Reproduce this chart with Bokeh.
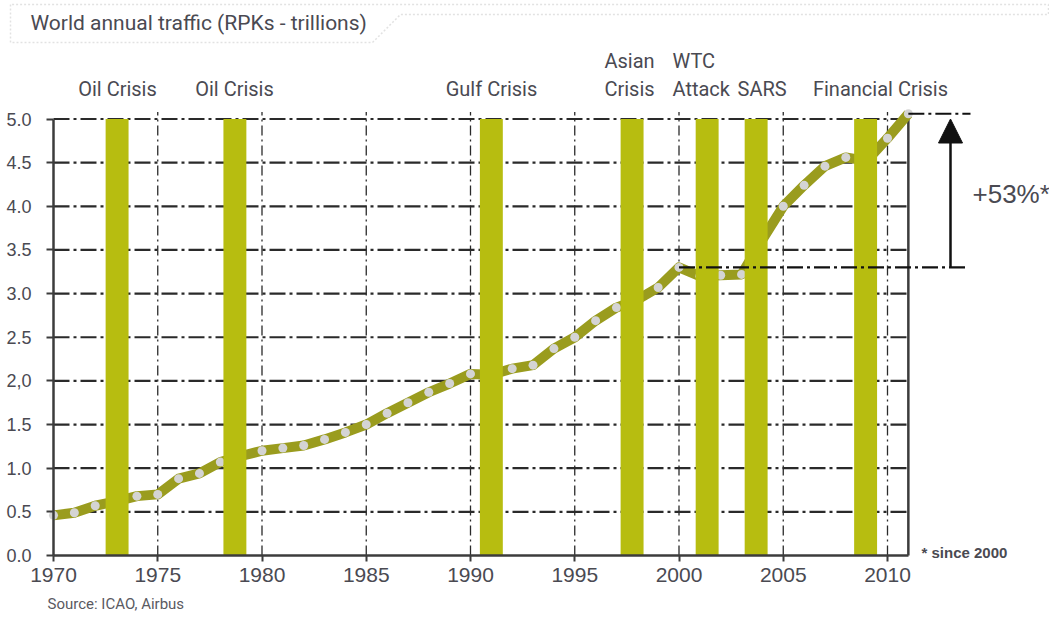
from bokeh.plotting import figure
from bokeh.models import FixedTicker, Label, Arrow, NormalHead, PolyAnnotation, Range1d
from bokeh.core.properties import value
from bokeh.embed import file_html
from bokeh.resources import INLINE

# ---------------- data ----------------
years = list(range(1970, 2012))
rpk = [0.46, 0.49, 0.57, 0.62, 0.68, 0.70, 0.88, 0.94, 1.07, 1.14,
       1.20, 1.23, 1.26, 1.33, 1.41, 1.50, 1.63, 1.75, 1.87, 1.97,
       2.08, 2.07, 2.14, 2.18, 2.37, 2.50, 2.69, 2.84, 2.93, 3.07,
       3.30, 3.20, 3.21, 3.22, 3.62, 4.00, 4.24, 4.46, 4.56, 4.52,
       4.78, 5.06]

crisis_years = [1973.05, 1978.7, 1991.0, 1997.75, 2001.35, 2003.7, 2008.95]
crisis_labels = ["Oil Crisis", "Oil Crisis", "Gulf Crisis", "Asian\nCrisis",
                 "WTC\nAttack", "SARS", "Financial Crisis"]

y_ticks = [0.0, 0.5, 1.0, 1.5, 2.0, 2.5, 3.0, 3.5, 4.0, 4.5, 5.0]
y_tick_labels = ["0.0", "0.5", "1.0", "1.5", "2,0", "2.5", "3.0", "3.5", "4.0", "4.5", "5.0"]
x_ticks = [1970, 1975, 1980, 1985, 1990, 1995, 2000, 2005, 2010]

title_text = "World annual traffic (RPKs - trillions)"
growth_text = "+53%*"
footnote_text = "* since 2000"
source_text = "Source: ICAO, Airbus"
base_year = 2000

# ---------------- layout helpers (picture pixels -> data) ----------------
W, H = 1049, 613
PX_YEAR = 20.85
PX_UNIT = 87.3


def dx(px):
    return years[0] + (px - 53) / PX_YEAR


def dy(py):
    return (555 - py) / PX_UNIT


LAB = "Roboto"
REG = "Liberation Sans"
TXT = "#4a4a52"
GRID = "#2a2a2a"
AXIS = "#3c3c3c"

p = figure(width=W, height=H, x_range=Range1d(dx(0), dx(W)), y_range=Range1d(dy(H), dy(0)),
           output_backend="svg", toolbar_location=None, title=None,
           min_border_left=0, min_border_bottom=0, min_border_top=0, min_border_right=0)
p.outline_line_color = None
p.xgrid.visible = False
p.ygrid.visible = False
p.background_fill_color = "white"
p.border_fill_color = "white"

x_last = years[-1]
y_top = y_ticks[-1]

# axes (drawn at fixed data locations so that the frame spans the whole canvas)
ax = p.xaxis[0]
ax.fixed_location = 0
ax.ticker = FixedTicker(ticks=x_ticks)
ax.bounds = (years[0], x_last)
ax.axis_line_width = 2.5
ax.axis_line_color = AXIS
ax.major_tick_out = 6
ax.major_tick_in = 0
ax.major_tick_line_width = 2
ax.major_tick_line_color = AXIS
ax.minor_tick_line_color = None
ax.major_label_standoff = 6
ax.major_label_text_font = REG
ax.major_label_text_font_size = "21px"
ax.major_label_text_color = TXT

ay = p.yaxis[0]
ay.fixed_location = years[0]
ay.ticker = FixedTicker(ticks=y_ticks)
ay.bounds = (0, y_top)
ay.major_label_overrides = {t: lab for t, lab in zip(y_ticks, y_tick_labels)}
ay.axis_line_width = 2.5
ay.axis_line_color = AXIS
ay.major_tick_out = 7
ay.major_tick_in = 0
ay.major_tick_line_width = 2
ay.major_tick_line_color = AXIS
ay.minor_tick_line_color = None
ay.major_label_standoff = 15
ay.major_label_text_font = REG
ay.major_label_text_font_size = "18px"
ay.major_label_text_color = TXT

# grid (dash-dot)
hy = y_ticks[1:]
p.segment(x0=[years[0]] * len(hy), y0=hy, x1=[x_last] * len(hy), y1=hy,
          line_color=GRID, line_width=2.2, line_dash="16 4 3 4", level="underlay")
vx = x_ticks[1:]
p.segment(x0=vx, y0=[0] * len(vx), x1=vx, y1=[y_top + 0.08] * len(vx),
          line_color=GRID, line_width=1.3, line_dash="10 4 2 4", level="underlay")
p.segment(x0=[x_last], y0=[0], x1=[x_last], y1=[rpk[-1]], line_color=AXIS, line_width=2.5)

# traffic line
p.line(years, rpk, line_color="#9a9c1e", line_width=10, line_join="round")
p.scatter(years, rpk, size=9, fill_color="#d4d4d4", line_color=None)

# crisis bars
p.vbar(x=crisis_years, width=1.1, bottom=0, top=y_top, fill_color="#b7bd10", line_color=None)

# crisis labels (last line at the lower row, earlier lines above)
lab_x = [dx(117), dx(234), dx(491), dx(629), dx(672), dx(737), dx(880)]
lab_align = ["center", "center", "center", "center", "left", "left", "center"]
tx, ty, tt, ta = [], [], [], []
for lx, al, lab in zip(lab_x, lab_align, crisis_labels):
    lines = lab.split("\n")
    for k, line in enumerate(lines):
        tx.append(lx)
        ty.append(dy(88 - 28 * (len(lines) - 1 - k)))
        tt.append(line)
        ta.append(al)
p.text(x=tx, y=ty, text=tt, text_align=ta, text_baseline="middle",
       text_font=value(LAB), text_font_size="20px", text_color=TXT)

# growth annotation
base_val = rpk[years.index(base_year)]
p.line([base_year, dx(965)], [base_val, base_val], line_color="#111111", line_width=2.2, line_dash="16 4 3 4")
p.line([x_last, dx(970)], [rpk[-1], rpk[-1]], line_color="#111111", line_width=2.2, line_dash="16 4 3 4")
p.add_layout(Arrow(end=NormalHead(size=24, fill_color="#111111", line_color="#111111"),
                   x_start=dx(950), y_start=base_val, x_end=dx(950), y_end=y_top,
                   line_color="#111111", line_width=2.5))
p.add_layout(Label(x=dx(972), y=dy(193), text=growth_text, text_font=REG, text_font_size="26px",
                   text_color=TXT, text_baseline="middle"))
p.add_layout(Label(x=dx(921), y=dy(552), text=footnote_text, text_font=REG, text_font_size="15px",
                   text_font_style="bold", text_color=TXT, text_baseline="middle"))

# title box and title
p.add_layout(PolyAnnotation(xs=[dx(10), dx(10), dx(372), dx(400), dx(1048), dx(1048)],
                            ys=[dy(4), dy(42), dy(42), dy(14), dy(14), dy(4)],
                            fill_alpha=0, line_color="#a0a0a0", line_width=1.5, line_dash="2 2"))
p.add_layout(Label(x=dx(30), y=dy(22), text=title_text, text_font=LAB, text_font_size="21px",
                   text_color=TXT, text_baseline="middle"))

# source
p.add_layout(Label(x=dx(47), y=dy(603), text=source_text, text_font=LAB, text_font_size="15px",
                   text_color="#5a5a62", text_baseline="middle"))

open("out.html", "w").write(file_html(p, INLINE))
